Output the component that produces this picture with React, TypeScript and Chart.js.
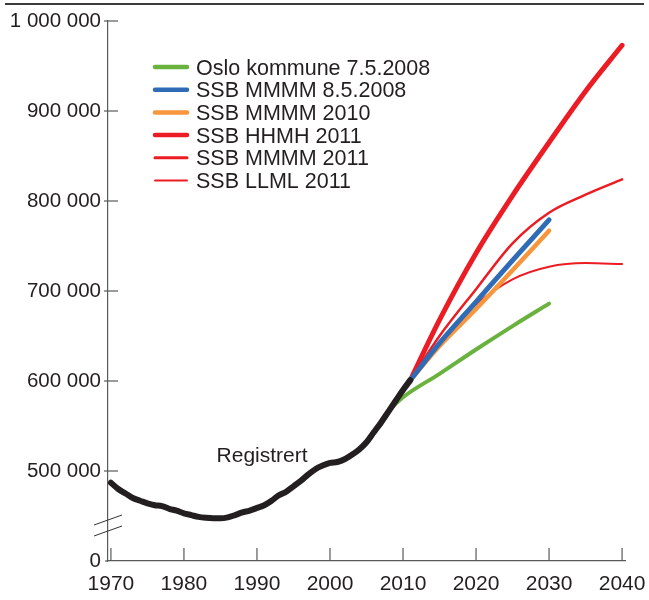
import React, { useEffect, useRef } from "react";
import { Chart, registerables } from "chart.js";

Chart.register(...registerables);

// ---------- data ----------
const registeredYears = [
  1970, 1971, 1972, 1973, 1974, 1975, 1976, 1977, 1978, 1979,
  1980, 1981, 1982, 1983, 1984, 1985, 1986, 1987, 1988, 1989,
  1990, 1991, 1992, 1993, 1994, 1995, 1996, 1997, 1998, 1999,
  2000, 2001, 2002, 2003, 2004, 2005, 2006, 2007, 2008, 2009,
  2010, 2011,
];
const registeredValues = [
  487000, 480000, 475000, 470000, 467000, 464000, 462000, 461000, 458000, 456000,
  453000, 451000, 449000, 448000, 447500, 447500, 448500, 451000, 454000, 456000,
  459000, 462000, 467000, 473000, 477000, 483000, 489000, 496000, 502000, 506000,
  509000, 510000, 513000, 518000, 524000, 532000, 543000, 554000, 566000, 578000,
  590000, 601000,
];

const osloYears = [2008, 2010, 2015, 2020, 2025, 2030];
const osloValues = [567000, 582000, 608000, 635000, 661000, 686000];

const ssb2008Years = [2011, 2015, 2020, 2025, 2030];
const ssb2008Values = [601000, 642000, 688000, 734000, 779000];

const ssb2010Years = [2011, 2015, 2020, 2025, 2030];
const ssb2010Values = [601000, 639000, 680000, 723000, 767000];

const ssb2011Years = [2011, 2015, 2020, 2025, 2030, 2035, 2040];
const hhmh2011Values = [601000, 668000, 742000, 806000, 865000, 922000, 973000];
const mmmm2011Values = [601000, 650000, 702000, 753000, 787000, 807000, 824000];
const llml2011Values = [601000, 642000, 685000, 713000, 727000, 731000, 730000];

const xTickYears = [1970, 1980, 1990, 2000, 2010, 2020, 2030, 2040];
const yTickValues = [400000, 500000, 600000, 700000, 800000, 900000, 1000000];
const breakValue = 400000; // shown as "0" below the axis break

const seriesLabels = [
  "Oslo kommune 7.5.2008",
  "SSB MMMM 8.5.2008",
  "SSB MMMM 2010",
  "SSB HHMH 2011",
  "SSB MMMM 2011",
  "SSB LLML 2011",
];
const registeredLabel = "Registrert";
const registeredLabelAt = { x: 1990.7, y: 510000 };

// ---------- styles ----------
const FONT = '"Liberation Sans", Arial, Helvetica, sans-serif';
const TEXT = "#231f20";
const AXIS = "#58595b";
const GREEN = "#6ab23e";
const BLUE = "#2f6cb5";
const ORANGE = "#f7963c";
const RED = "#ec1c24";
const BLACK = "#231f20";

const pts = (xs: number[], ys: number[]) => xs.map((x, i) => ({ x, y: ys[i] }));

const formatValue = (v: number) =>
  v === breakValue ? "0" : String(v).replace(/\B(?=(\d{3})+(?!\d))/g, " ");

const decorPlugin = {
  id: "decor",
  beforeDraw(chart: any) {
    const ctx = chart.ctx;
    ctx.save();
    ctx.strokeStyle = "#3c3c3c";
    ctx.lineWidth = 1.8;
    ctx.beginPath();
    ctx.moveTo(5, 4);
    ctx.lineTo(644, 4);
    ctx.stroke();
    ctx.restore();
  },
  afterDraw(chart: any) {
    const ctx = chart.ctx;
    const xs = chart.scales.x;
    const ys = chart.scales.y;
    const { left, bottom } = chart.chartArea;
    ctx.save();
    ctx.strokeStyle = AXIS;
    ctx.lineWidth = 1.2;
    // x ticks (inward)
    xs.ticks.forEach((t: any) => {
      const px = xs.getPixelForValue(t.value);
      ctx.beginPath();
      ctx.moveTo(px, bottom);
      ctx.lineTo(px, bottom - 13);
      ctx.stroke();
    });
    // y ticks (inward)
    ys.ticks.forEach((t: any) => {
      const py = ys.getPixelForValue(t.value);
      ctx.beginPath();
      if (t.value === breakValue) {
        ctx.moveTo(left - 3, py);
        ctx.lineTo(left, py);
      } else {
        ctx.moveTo(left - 4, py);
        ctx.lineTo(left + 10, py);
      }
      ctx.stroke();
    });
    // axis break marks
    ctx.lineWidth = 1;
    ctx.strokeStyle = "#333";
    [bottom - 41, bottom - 30].forEach((cy) => {
      ctx.beginPath();
      ctx.moveTo(left - 14, cy + 5);
      ctx.lineTo(left + 14, cy - 5);
      ctx.stroke();
    });

    // label for registered series
    ctx.fillStyle = TEXT;
    ctx.font = `21px ${FONT}`;
    ctx.textAlign = "center";
    ctx.textBaseline = "alphabetic";
    ctx.fillText(
      registeredLabel,
      xs.getPixelForValue(registeredLabelAt.x),
      ys.getPixelForValue(registeredLabelAt.y)
    );

    // legend
    ctx.font = `21.5px ${FONT}`;
    const items = chart.data.datasets.filter((d: any) => d.legendWidth);
    items.forEach((d: any, i: number) => {
      const y = 67 + i * 22.7;
      ctx.strokeStyle = d.borderColor;
      ctx.lineWidth = d.legendWidth;
      ctx.lineCap = "round";
      ctx.beginPath();
      ctx.moveTo(155, y);
      ctx.lineTo(187, y);
      ctx.stroke();
      ctx.fillStyle = TEXT;
      ctx.textAlign = "left";
      ctx.textBaseline = "alphabetic";
      ctx.fillText(d.label, 196, y + 7.6);
    });
    ctx.restore();
  },
};

export default function App() {
  const ref = useRef<HTMLCanvasElement | null>(null);

  useEffect(() => {
    if (!ref.current) return;
    const line = (label: string, data: any[], color: string, width: number, order: number, legendWidth: number) => ({
      label,
      data,
      borderColor: color,
      backgroundColor: color,
      borderWidth: width,
      pointRadius: 0,
      fill: false,
      cubicInterpolationMode: "monotone" as const,
      borderCapStyle: "round" as const,
      borderJoinStyle: "round" as const,
      order,
      legendWidth,
    });

    const chart = new Chart(ref.current, {
      type: "line",
      data: {
        datasets: [
          line(seriesLabels[0], pts(osloYears, osloValues), GREEN, 4, 6, 4.5),
          line(seriesLabels[1], pts(ssb2008Years, ssb2008Values), BLUE, 5, 1, 4.5),
          line(seriesLabels[2], pts(ssb2010Years, ssb2010Values), ORANGE, 4.5, 2, 4.5),
          line(seriesLabels[3], pts(ssb2011Years, hhmh2011Values), RED, 5, 5, 4.5),
          line(seriesLabels[4], pts(ssb2011Years, mmmm2011Values), RED, 2.5, 3, 3),
          line(seriesLabels[5], pts(ssb2011Years, llml2011Values), RED, 2, 4, 2),
          line(registeredLabel, pts(registeredYears, registeredValues), BLACK, 6, 0, 0),
        ] as any,
      },
      options: {
        animation: false,
        responsive: false,
        layout: { padding: { top: 21, right: 24, left: 0, bottom: 0 } },
        plugins: { legend: { display: false }, tooltip: { enabled: false } },
        scales: {
          x: {
            type: "linear",
            min: 1969.6,
            max: 2040.4,
            grid: { display: false, drawTicks: false },
            border: { display: true, color: AXIS, width: 1.2 },
            ticks: {
              color: TEXT,
              font: { family: FONT, size: 21 },
              padding: 11,
              maxRotation: 0,
              callback: (v: any) => String(v),
            },
            afterBuildTicks: (s: any) => {
              s.ticks = xTickYears.map((value) => ({ value }));
            },
            afterFit: (s: any) => {
              s.height = 39;
              s.paddingLeft = 0;
              s.paddingRight = 0;
            },
          },
          y: {
            type: "linear",
            min: 400000,
            max: 1000000,
            grid: { display: false, drawTicks: false },
            border: { display: true, color: AXIS, width: 1.2 },
            ticks: {
              color: TEXT,
              font: { family: FONT, size: 20.5 },
              padding: 7,
              callback: (v: any) => formatValue(Number(v)),
            },
            afterBuildTicks: (s: any) => {
              s.ticks = yTickValues.map((value) => ({ value }));
            },
            afterFit: (s: any) => {
              s.width = 108;
              s.paddingTop = 0;
              s.paddingBottom = 0;
            },
          },
        },
      },
      plugins: [decorPlugin],
    });
    return () => chart.destroy();
  }, []);

  return (
    <div style={{ position: "fixed", left: 0, top: 0, width: 649, height: 600, background: "#fff" }}>
      <canvas ref={ref} width={649} height={600} style={{ width: 649, height: 600, display: "block" }} />
    </div>
  );
}
